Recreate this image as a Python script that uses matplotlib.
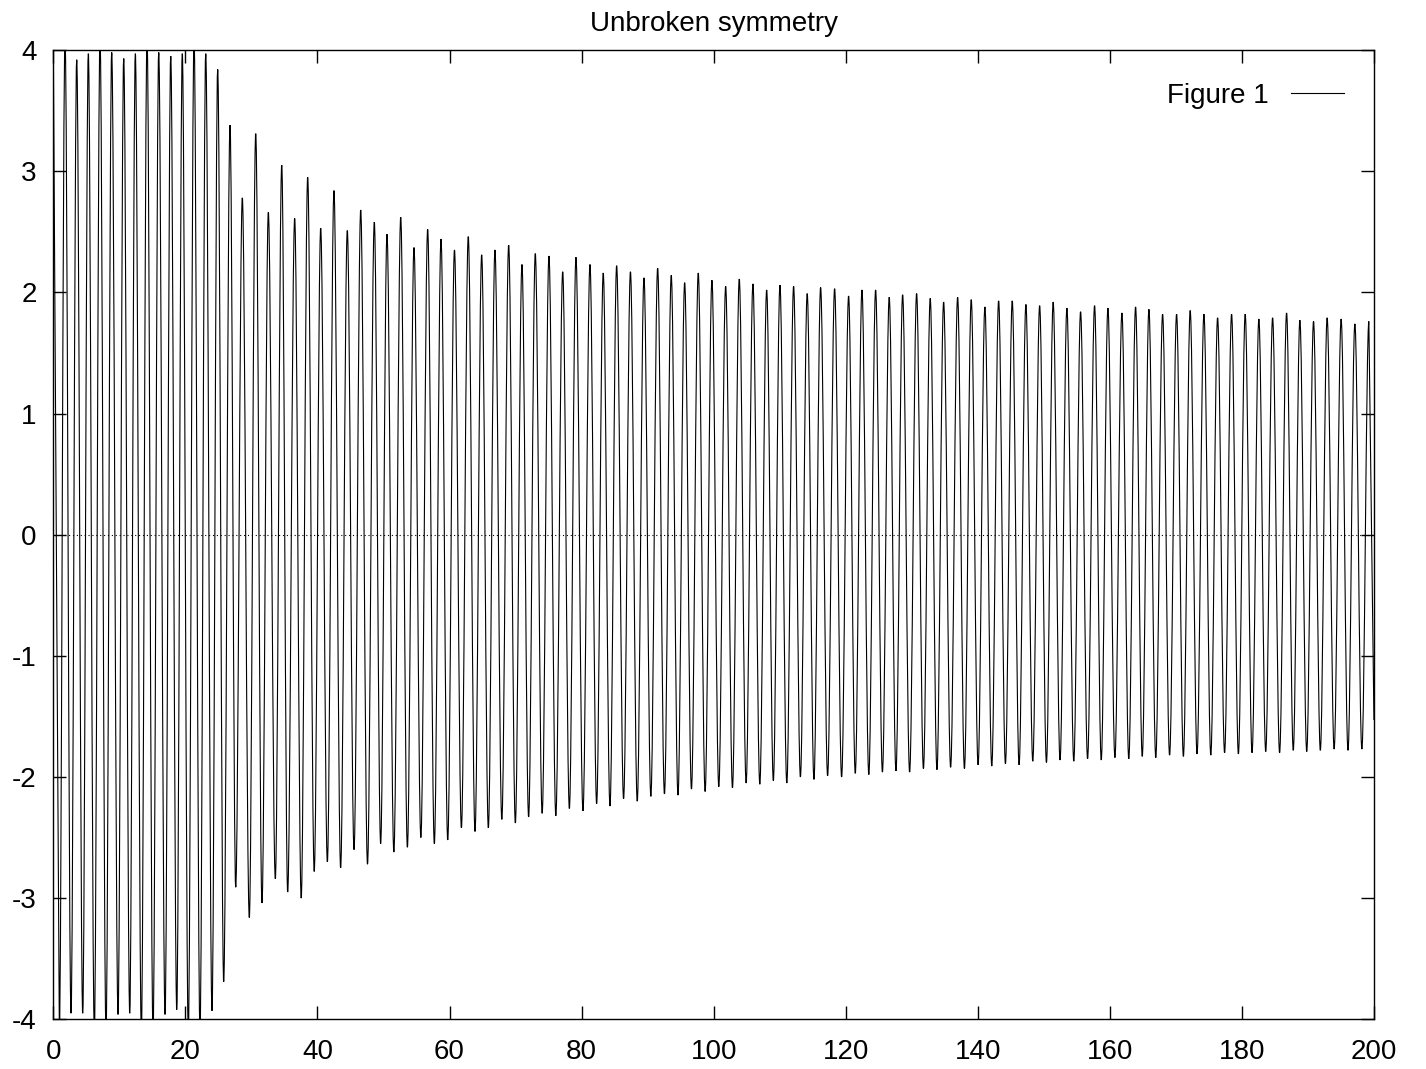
import numpy as np
import matplotlib
matplotlib.use("Agg")
import matplotlib.pyplot as plt
from matplotlib.path import Path
from matplotlib.patches import PathPatch
from matplotlib.lines import Line2D

plt.rcParams["font.family"] = ["Liberation Sans", "DejaVu Sans"]
plt.rcParams["axes.unicode_minus"] = False

# curve: local maxima and minima of the oscillation
start_x, start_y = 0.0, 4.0
end_x, end_y = 200.0, -1.53

peak_x = [
    1.77, 3.54, 5.30, 7.07, 8.84, 10.66, 12.42, 14.19, 15.96, 17.78,
    19.53, 21.31, 23.08, 24.89, 26.76, 28.62, 30.65, 32.56, 34.59,
    36.55, 38.52, 40.49, 42.50, 44.52, 46.55, 48.61, 50.53, 52.61, 54.62,
    56.69, 58.71, 60.75, 62.84, 64.87, 66.88, 68.96, 70.97, 72.99, 75.06,
    77.14, 79.15, 81.27, 83.28, 85.31, 87.40, 89.45, 91.52, 93.58, 95.61,
    97.67, 99.74, 101.82, 103.88, 105.95, 108.03, 110.04, 112.11, 114.17, 116.20,
    118.32, 120.44, 122.46, 124.53, 126.59, 128.62, 130.74, 132.80, 134.83, 136.95,
    139.01, 141.08, 143.16, 145.22, 147.29, 149.37, 151.42, 153.50, 155.57, 157.69,
    159.71, 161.83, 163.90, 165.92, 167.99, 170.11, 172.17, 174.25, 176.32, 178.44,
    180.50, 182.57, 184.65, 186.77, 188.78, 190.85, 192.91, 195.03, 197.11, 199.23,
]
peak_y = [
    4.10, 3.92, 3.97, 4.10, 3.98, 3.93, 3.97, 4.10, 3.98, 3.95,
    3.97, 4.10, 3.97, 3.84, 3.38, 2.78, 3.31, 2.66, 3.05,
    2.61, 2.95, 2.53, 2.84, 2.51, 2.68, 2.58, 2.48, 2.62, 2.37,
    2.52, 2.44, 2.35, 2.46, 2.31, 2.35, 2.39, 2.23, 2.32, 2.30,
    2.17, 2.29, 2.23, 2.16, 2.22, 2.17, 2.12, 2.20, 2.14, 2.08,
    2.16, 2.10, 2.05, 2.11, 2.07, 2.02, 2.06, 2.05, 1.99, 2.04,
    2.03, 1.97, 2.02, 2.02, 1.96, 1.98, 1.99, 1.95, 1.92, 1.96,
    1.94, 1.88, 1.93, 1.93, 1.90, 1.89, 1.92, 1.87, 1.84, 1.89,
    1.87, 1.83, 1.88, 1.86, 1.82, 1.82, 1.85, 1.82, 1.79, 1.82,
    1.82, 1.78, 1.79, 1.83, 1.77, 1.76, 1.79, 1.78, 1.74, 1.76,
]

trough_x = [
    0.91, 2.68, 4.45, 6.21, 7.98, 9.80, 11.57, 13.33, 15.10, 16.92,
    18.69, 20.44, 22.21, 24.03, 25.80, 27.62, 29.68, 31.60, 33.62, 35.49,
    37.54, 39.51, 41.50, 43.51, 45.54, 47.58, 49.57, 51.57, 53.62, 55.66,
    57.70, 59.73, 61.80, 63.86, 65.88, 67.92, 69.97, 71.98, 74.03, 76.10,
    78.15, 80.21, 82.28, 84.30, 86.36, 88.43, 90.49, 92.55, 94.60, 96.64,
    98.71, 100.78, 102.85, 104.92, 106.99, 109.04, 111.08, 113.14, 115.19, 117.26,
    119.38, 121.45, 123.50, 125.56, 127.61, 129.68, 131.77, 133.82, 135.89, 137.98,
    140.05, 142.12, 144.19, 146.26, 148.33, 150.40, 152.46, 154.54, 156.63, 158.70,
    160.77, 162.87, 164.91, 166.96, 169.05, 171.14, 173.21, 175.29, 177.38, 179.47,
    181.54, 183.61, 185.71, 187.78, 189.82, 191.88, 193.97, 196.07, 198.17,
]
trough_y = [
    -4.10, -3.95, -3.95, -4.10, -4.10, -3.96, -3.95, -4.10, -4.10, -3.96,
    -3.92, -4.10, -4.10, -3.93, -3.69, -2.91, -3.16, -3.04, -2.84, -2.95,
    -3.00, -2.78, -2.70, -2.75, -2.60, -2.72, -2.55, -2.62, -2.58, -2.50,
    -2.55, -2.52, -2.42, -2.45, -2.42, -2.35, -2.38, -2.33, -2.30, -2.32,
    -2.26, -2.28, -2.22, -2.24, -2.18, -2.20, -2.16, -2.14, -2.15, -2.10,
    -2.12, -2.08, -2.09, -2.05, -2.06, -2.03, -2.05, -2.00, -2.02, -1.99,
    -2.00, -1.97, -1.98, -1.96, -1.95, -1.96, -1.93, -1.94, -1.92, -1.93,
    -1.90, -1.91, -1.89, -1.90, -1.87, -1.88, -1.86, -1.87, -1.85, -1.86,
    -1.84, -1.85, -1.83, -1.84, -1.82, -1.83, -1.81, -1.82, -1.80, -1.81,
    -1.80, -1.79, -1.80, -1.78, -1.79, -1.78, -1.77, -1.78, -1.77,
]

x_ticks = [0, 20, 40, 60, 80, 100, 120, 140, 160, 180, 200]
y_ticks = [-4, -3, -2, -1, 0, 1, 2, 3, 4]

ext_x = np.concatenate([peak_x, trough_x])
ext_y = np.concatenate([peak_y, trough_y])
order = np.argsort(ext_x)
ext_x, ext_y = ext_x[order], ext_y[order]

# smooth swing between successive extrema (flat tangent at each turning point)
k = 0.364
verts = [(start_x, start_y), (ext_x[0], ext_y[0])]
codes = [Path.MOVETO, Path.LINETO]
for i in range(len(ext_x) - 1):
    x0, y0, x1, y1 = ext_x[i], ext_y[i], ext_x[i + 1], ext_y[i + 1]
    dx = x1 - x0
    verts += [(x0 + k * dx, y0), (x1 - k * dx, y1), (x1, y1)]
    codes += [Path.CURVE4] * 3
verts.append((end_x, end_y))
codes.append(Path.LINETO)

fig = plt.figure(figsize=(14.26, 10.69), dpi=100)
ax = fig.add_axes([0.0374, 0.0465, 0.9261, 0.9067])

ax.axhline(0, color="black", lw=0.8, ls=(0, (1, 2.5)), zorder=1)
ax.add_patch(PathPatch(Path(verts, codes), facecolor="none", edgecolor="black",
                       lw=0.8, zorder=2))

ax.set_xlim(0, 200)
ax.set_ylim(-4, 4)
ax.set_xticks(x_ticks)
ax.set_yticks(y_ticks)
ax.tick_params(direction="in", length=9.5, width=1.0, top=True, right=True, labelsize=20)
ax.tick_params(axis="x", pad=14)
ax.tick_params(axis="y", pad=12)
for s in ax.spines.values():
    s.set_linewidth(1.0)

ax.set_title("Unbroken symmetry", fontsize=20, pad=14)
handle = Line2D([], [], color="black", lw=0.8)
ax.legend([handle], ["Figure 1"], loc="upper right", frameon=False, markerfirst=False,
          fontsize=20, handlelength=1.9, borderaxespad=0.6,
          bbox_to_anchor=(0.9985, 0.995))

fig.savefig("out.png", dpi=100)
